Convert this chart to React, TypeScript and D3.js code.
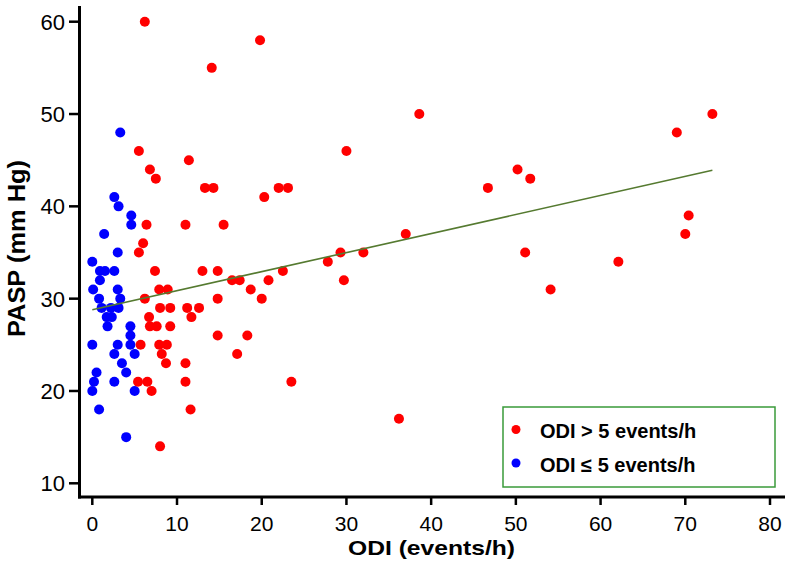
import React from "react";
import * as d3 from "d3";

// ODI > 5 events/h (red)
const highOdi = [6.2, 14.1, 5.5, 11.4, 6.8, 7.5, 13.3, 14.3, 6.4, 11.0, 6.0, 5.5, 7.4, 13.0, 14.8, 7.9, 8.9, 6.2, 14.8, 8.0, 9.2, 11.2, 12.6, 6.7, 11.7, 6.8, 7.6, 9.2, 14.8, 5.7, 7.9, 8.8, 8.2, 8.7, 11.0, 5.4, 6.5, 11.0, 7.0, 11.6, 8.0, 19.8, 30.0, 20.3, 22.0, 23.1, 15.5, 22.5, 29.3, 32.0, 27.8, 16.5, 17.4, 20.8, 29.7, 18.7, 20.0, 18.3, 17.1, 23.5, 36.2, 38.6, 73.2, 69.0, 50.2, 51.7, 46.7, 70.4, 70.0, 37.0, 51.1, 62.1, 54.1];
const highPasp = [60, 55, 46, 45, 44, 43, 42, 42, 38, 38, 36, 35, 33, 33, 33, 31, 31, 30, 30, 29, 29, 29, 29, 28, 28, 27, 27, 27, 26, 25, 25, 25, 24, 23, 23, 21, 21, 21, 20, 18, 14, 58, 46, 41, 42, 42, 38, 33, 35, 35, 34, 32, 32, 32, 32, 31, 30, 26, 24, 21, 17, 50, 50, 48, 44, 43, 42, 39, 37, 37, 35, 34, 31];

// ODI <= 5 events/h (blue)
const lowOdi = [3.3, 2.6, 3.1, 4.6, 4.6, 1.4, 3.0, 0.0, 0.9, 1.5, 2.6, 0.9, 0.1, 3.0, 0.8, 3.3, 1.1, 2.2, 3.1, 1.7, 2.3, 1.8, 4.5, 4.5, 0.0, 3.0, 4.5, 2.6, 5.0, 3.5, 0.5, 4.0, 0.2, 2.6, 0.0, 5.0, 0.8, 4.0];
const lowPasp = [48, 41, 40, 39, 38, 37, 35, 34, 33, 33, 33, 32, 31, 31, 30, 30, 29, 29, 29, 28, 28, 27, 27, 26, 25, 25, 25, 24, 24, 23, 22, 22, 21, 21, 20, 20, 18, 15];

// Regression line endpoints
const trendOdi = [0, 73.2];
const trendPasp = [28.8, 43.9];

const xTicks = [0, 10, 20, 30, 40, 50, 60, 70, 80];
const yTicks = [10, 20, 30, 40, 50, 60];

const legendLabels = ["ODI > 5 events/h", "ODI \u2264 5 events/h"];
const xTitle = "ODI (events/h)";
const yTitle = "PASP (mm Hg)";

const W = 793;
const H = 567;
const FONT = "'Liberation Sans', Arial, Helvetica, sans-serif";

export default function App() {
  const x = d3.scaleLinear().domain([0, 80]).range([92.3, 770]);
  const y = d3.scaleLinear().domain([10, 60]).range([483.3, 21.7]);
  const axisX = 79.5;
  const axisY = 497;

  const line = d3
    .line<number>()
    .x((d, i) => x(trendOdi[i]))
    .y((d) => y(d));

  const red = "#ff0000";
  const blue = "#0000ff";
  const r = 5;

  const legX = 503;
  const legY = 407;
  const legW = 272;
  const legH = 80;

  return (
    <svg
      width={W}
      height={H}
      style={{ position: "absolute", left: 0, top: 0, background: "#fff" }}
      fontFamily={FONT}
    >
      <rect x={0} y={0} width={W} height={H} fill="#fff" />
      {/* axes */}
      <line x1={axisX} x2={axisX} y1={6} y2={axisY + 1.5} stroke="#000" strokeWidth={3} />
      <line x1={axisX - 1.5} x2={785} y1={axisY} y2={axisY} stroke="#000" strokeWidth={3} />
      {yTicks.map((t) => (
        <g key={"y" + t}>
          <line x1={69} x2={axisX} y1={y(t)} y2={y(t)} stroke="#000" strokeWidth={2.5} />
          <text x={65} y={y(t)} dy="0.36em" textAnchor="end" fontSize={22} fill="#000">
            {t}
          </text>
        </g>
      ))}
      {xTicks.map((t) => (
        <g key={"x" + t}>
          <line x1={x(t)} x2={x(t)} y1={axisY} y2={505} stroke="#000" strokeWidth={2.5} />
          <text x={x(t)} y={531} textAnchor="middle" fontSize={21} fill="#000">
            {t}
          </text>
        </g>
      ))}
      <text
        x={431.5}
        y={555}
        textAnchor="middle"
        fontSize={21}
        fontWeight="bold"
        textLength={167}
        lengthAdjust="spacingAndGlyphs"
        fill="#000"
      >
        {xTitle}
      </text>
      <text
        transform={`translate(25,248.5) rotate(-90)`}
        textAnchor="middle"
        fontSize={23}
        fontWeight="bold"
        textLength={177}
        lengthAdjust="spacingAndGlyphs"
        fill="#000"
      >
        {yTitle}
      </text>

      {/* points */}
      {lowOdi.map((v, i) => (
        <circle key={"b" + i} cx={x(v)} cy={y(lowPasp[i])} r={r} fill={blue} />
      ))}
      {highOdi.map((v, i) => (
        <circle key={"r" + i} cx={x(v)} cy={y(highPasp[i])} r={r} fill={red} />
      ))}

      {/* trend line */}
      <path d={line(trendPasp) || ""} fill="none" stroke="#557a30" strokeWidth={1.6} />

      {/* legend */}
      <rect x={legX} y={legY} width={legW} height={legH} fill="#fff" stroke="#3a9a3a" strokeWidth={1.5} />
      <circle cx={516} cy={429.5} r={4.5} fill={red} />
      <text x={540} y={438} fontSize={20} fontWeight="bold" fill="#000">
        {legendLabels[0]}
      </text>
      <circle cx={516} cy={463} r={4.5} fill={blue} />
      <text x={540} y={472} fontSize={20} fontWeight="bold" fill="#000">
        {legendLabels[1]}
      </text>
    </svg>
  );
}
